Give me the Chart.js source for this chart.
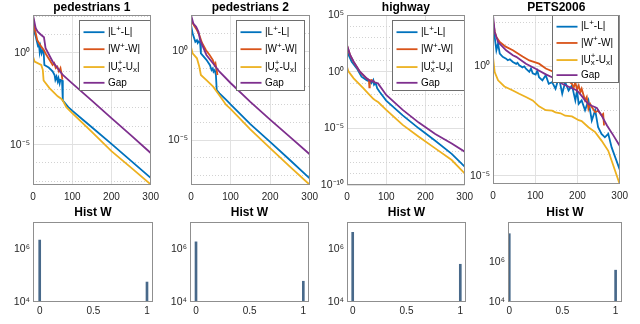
<!DOCTYPE html>
<html><head><meta charset="utf-8">
<script src="https://cdn.jsdelivr.net/npm/chart.js@4.4.0/dist/chart.umd.min.js"></script>
<style>
html,body{margin:0;padding:0;background:#fff;width:640px;height:324px;overflow:hidden;position:relative;}
.p{position:absolute;}
</style></head><body>
<script>
// ---------- data ----------
const iterTicks = [0, 100, 200, 300];
const histTicks = [0, 0.5, 1];
const histTickLabels = ['0', '0.5', '1'];
const seriesNames = ['|L⁺-L|', '|W⁺-W|', '|Uₓ⁺-Uₓ|', 'Gap'];
const seriesColors = ['#0072BD', '#D95319', '#EDB120', '#7E2F8E'];
const titles = ['pedestrians 1', 'pedestrians 2', 'highway', 'PETS2006'];
const histTitle = 'Hist W';

// [iteration, value]
const ped1L = [[0,76],[3,14.5],[7,7.8],[10,4.2],[13,2.2],[15,3.3],[17,1.17],[19,2.2],[22,0.95],[25,1.45],[27,1.25],[29,0.22],[40,0.16],[50,0.1],[55,0.063],[57,0.034],[60,0.051],[63,0.028],[65,0.042],[68,0.022],[70,0.034],[74,0.032],[76,0.0025],[80,0.002],[90,1.1e-3],[100,7.1e-4],[125,2.5e-4],[150,8.9e-5],[200,1.1e-5],[250,1.3e-6],[300,1.55e-7]];
const ped1W = [[0,93],[4,22],[11,5.0],[21,2.2],[28,1.4],[34,0.79],[42,0.42],[50,0.22],[54,0.28],[58,0.15],[62,0.18],[66,0.1],[70,0.15],[73,0.071],[75,0.035]];
const ped1U = [[0,0.63],[4,0.34],[21,0.22],[25,0.12],[27,0.032],[29,0.028],[42,0.012],[63,4.3e-3],[72,3.2e-3],[76,2.5e-3],[85,1.1e-3],[100,5.2e-4],[150,5.0e-5],[200,4.4e-6],[250,5.6e-7],[300,6.8e-8]];
const ped1Gap = [[0,117],[7,22],[12,14.5],[21,9.5],[28,7.1],[32,1.8],[50,0.34],[76,0.063],[100,0.022],[150,2.5e-3],[200,2.8e-4],[250,3.2e-5],[300,3.5e-6]];

const ped2L = [[0,29],[4,10],[11,3.3],[15,4.0],[17,2.8],[20,3.5],[23,2.8],[25,0.74],[39,0.32],[48,0.16],[52,0.085],[55,0.105],[57,0.069],[60,0.085],[63,0.045],[65,6.5e-3],[72,4.2e-3],[89,1.8e-3],[100,1.0e-3],[150,7.9e-5],[200,7.9e-6],[250,7.6e-7],[300,7.1e-8]];
const ped2W = [[0,55],[7,29],[15,15],[21,7.9],[28,2.8],[38,1.1],[47,0.6],[55,0.32],[60,0.16],[62,0.2],[64,0.11],[67,0.045]];
const ped2U = [[0,1.7],[4,0.74],[15,0.39],[21,0.13],[25,0.045],[39,0.023],[56,0.01],[68,4.2e-3],[89,9.3e-4],[100,5.6e-4],[150,4.0e-5],[200,3.5e-6],[250,3.2e-7],[300,3.1e-8]];
const ped2Gap = [[0,105],[6,35],[13,23],[19,12],[23,4.2],[39,0.6],[56,0.2],[72,0.069],[100,0.016],[150,1.4e-3],[200,1.4e-4],[250,1.5e-5],[300,1.6e-6]];

const hwyL = [[0,79],[4,30],[12,7.6],[25,1.95],[37,0.36],[50,0.18],[58,0.13],[62,0.093],[67,0.18],[69,0.071],[73,0.1],[77,0.034],[83,0.017],[100,2.8e-3],[142,1.4e-4],[183,1.0e-5],[225,7.9e-7],[267,5.6e-8],[300,4.2e-9]];
const hwyW = [[0,200],[8,28],[17,7.2],[33,0.95],[50,0.25],[56,0.18],[57,0.042],[58,0.16],[62,0.18],[67,0.14],[71,0.126]];
const hwyU = [[0,2.75],[4,1.0],[17,0.26],[42,0.034],[55,0.011],[67,4e-3],[73,2.8e-3],[80,2e-3],[100,4.2e-4],[142,2e-5],[183,1.8e-6],[225,1.7e-7],[267,1.6e-8],[300,1.07e-9]];
const hwyGap = [[0,224],[8,30],[17,7.6],[33,1.0],[50,0.26],[62,0.13],[66,0.16],[71,0.11],[79,0.093],[100,8.7e-3],[142,4.2e-4],[183,3.2e-5],[225,3.2e-6],[267,4.5e-7],[300,8.7e-8]];

const petsL = [[0,63],[4,22],[8,5.4],[12,11],[16,3.8],[23,2.7],[31,2.24],[35,1.9],[40,2.1],[47,1.58],[55,1.3],[58,1.45],[62,1.12],[70,0.9],[74,1.0],[78,0.78],[86,0.56],[90,0.79],[94,0.48],[101,0.42],[105,0.63],[109,0.32],[117,0.23],[125,0.39],[132,0.16],[140,0.19],[148,0.095],[156,0.32],[164,0.056],[171,0.19],[179,0.079],[187,0.135],[195,0.028],[199,0.079],[203,0.0195],[210,0.028],[218,0.01],[226,0.028],[234,3.4e-3],[242,0.01],[249,1.66e-3],[257,8.3e-4],[265,5.8e-4],[273,8.3e-4],[281,2.0e-4],[300,2.0e-5]];
const petsW = [[0,126],[4,40],[8,22],[16,12.9],[30,7.9],[47,5.4],[70,2.8],[86,1.86],[109,1.32],[125,0.79],[140,0.6],[160,0.35],[175,0.25],[187,0.16],[191,0.105],[195,0.19],[199,0.085],[203,0.135],[207,0.066],[210,0.095],[218,0.028],[222,0.04],[226,0.0115],[230,0.0195],[234,0.0138],[242,8.1e-3],[249,9.5e-3],[257,5.8e-3],[261,6.8e-3],[263,2.0e-3]];
const petsU = [[0,2.7],[4,0.55],[12,0.23],[27,0.12],[47,0.079],[62,0.056],[78,0.04],[94,0.028],[109,0.015],[125,0.01],[140,9.5e-3],[148,7.9e-3],[160,7.2e-3],[171,5.6e-3],[187,5.2e-3],[203,3.5e-3],[210,3.2e-3],[226,1.66e-3],[242,1.0e-3],[257,4.1e-4],[273,1.4e-4],[300,4.3e-6]];
const petsGap = [[0,219],[4,37],[12,12.9],[31,5.4],[47,3.2],[55,2.7],[78,1.32],[101,0.78],[125,0.43],[140,0.32],[164,0.16],[187,0.1],[199,0.079],[210,0.045],[218,0.028],[226,0.019],[234,0.016],[246,0.0126],[257,5.8e-3],[270,2.0e-3],[285,7.1e-4],[300,2.4e-4]];

// y limits and labelled ticks of the line panels
const ped1YRange = [6.3e-8, 117];
const ped2YRange = [3.0e-8, 105];
const hwyYRange = [1e-10, 1e5];
const petsYRange = [4.3e-6, 219];
const yTickVals = [1, 1e-5];
const yTickLabels = ['10⁰', '10⁻⁵'];
const hwyYTickVals = [1e5, 1, 1e-5, 1e-10];
const hwyYTickLabels = ['10⁵', '10⁰', '10⁻⁵', '10⁻¹⁰'];

// histograms of W
const histBins = [0, 1];
const histPed1 = [2.1e6, 5.6e4];
const histPed2 = [1.8e6, 6.0e4];
const histHwy = [4.1e6, 2.6e5];
const histPets = [2.6e7, 3.9e5];
const histYTickVals = [1e4, 1e6];
const histYTickLabels = ['10⁴', '10⁶'];

// ---------- rendering ----------
const FONT = "'Liberation Sans', Arial, Helvetica, sans-serif";
Chart.defaults.font.family = FONT;
Chart.defaults.color = '#262626';

function decadesBetween(min, max) {
  const out = [];
  for (let e = Math.ceil(Math.log10(min) - 1e-9); e <= Math.floor(Math.log10(max) + 1e-9); e++) out.push(Math.pow(10, e));
  return out;
}
function labelFor(v, vals, labels) {
  const i = vals.findIndex(t => Math.abs(Math.log10(t) - Math.log10(v)) < 1e-6);
  return i >= 0 ? labels[i] : '';
}
function isLabelled(v, vals) {
  return vals.some(t => Math.abs(Math.log10(t) - Math.log10(v)) < 1e-6);
}

function drawRich(ctx, text, x, y, size) {
  const norm = size + 'px ' + FONT, small = Math.round(size * 0.75) + 'px ' + FONT;
  let cx = x, subStart = null;
  for (const ch of text) {
    if (ch === '⁺' || ch === 'ₓ') {
      const sup = ch === '⁺', c = sup ? '+' : 'x';
      ctx.font = small;
      const w = ctx.measureText(c).width;
      if (sup && subStart !== null) {
        ctx.fillText(c, subStart, y - size * 0.38);
        cx = Math.max(cx, subStart + w);
        subStart = null;
      } else {
        ctx.fillText(c, cx, y + (sup ? -size * 0.38 : size * 0.32));
        subStart = sup ? null : cx;
        cx += w;
      }
    } else {
      ctx.font = norm;
      ctx.fillText(ch, cx, y);
      cx += ctx.measureText(ch).width;
      subStart = null;
    }
  }
}

const framePlugin = {
  id: 'frame',
  afterDraw(chart) {
    const a = chart.chartArea, ctx = chart.ctx;
    ctx.save();
    ctx.strokeStyle = '#8f8f8f';
    ctx.lineWidth = 1;
    ctx.strokeRect(Math.round(a.left) + 0.5, Math.round(a.top) + 0.5, Math.round(a.right - a.left) - 1, Math.round(a.bottom - a.top) - 1);
    ctx.restore();
  }
};

const boxLegendPlugin = {
  id: 'boxLegend',
  afterDatasetsDraw(chart, args, opts) {
    if (!opts || !opts.w) return;
    const a = chart.chartArea, ctx = chart.ctx;
    const x = Math.round(a.right - opts.r - opts.w) + 0.5, y = Math.round(a.top + opts.t) + 0.5;
    const rows = [0.167, 0.41, 0.665, 0.89];
    ctx.save();
    ctx.fillStyle = '#fff';
    ctx.fillRect(x, y, opts.w, opts.h);
    ctx.strokeStyle = '#6e6e6e';
    ctx.lineWidth = 1;
    ctx.strokeRect(x, y, opts.w, opts.h);
    chart.data.datasets.forEach((ds, i) => {
      const yy = y + opts.h * rows[i];
      ctx.strokeStyle = ds.borderColor;
      ctx.lineWidth = 1.8;
      ctx.beginPath(); ctx.moveTo(x + 4, yy); ctx.lineTo(x + 25, yy); ctx.stroke();
      ctx.fillStyle = '#000';
      ctx.textBaseline = 'middle';
      ctx.textAlign = 'left';
      drawRich(ctx, ds.label, x + 28.5, yy, 10);
    });
    ctx.restore();
  }
};

function place(rect, YW, RP, TH, XH) {
  const div = document.createElement('div');
  div.className = 'p';
  const W = (rect.r - rect.l) + YW + RP, H = (rect.b - rect.t) + TH + XH;
  div.style.left = (rect.l - YW) + 'px';
  div.style.top = (rect.t - TH) + 'px';
  div.style.width = W + 'px';
  div.style.height = H + 'px';
  const c = document.createElement('canvas');
  c.width = W; c.height = H;
  c.style.width = W + 'px'; c.style.height = H + 'px';
  div.appendChild(c);
  document.body.appendChild(div);
  return c;
}

function lineChart(rect, title, series, yRange, tVals, tLabels, legendBox) {
  const YW = 36, RP = 12, TH = 15, XH = 20;
  const c = place(rect, YW, RP, TH, XH);
  const orders = [3, 2, 1, 0];
  const datasets = series.map((s, i) => ({
    label: seriesNames[i],
    data: s.map(p => ({x: p[0], y: p[1]})),
    borderColor: seriesColors[i],
    backgroundColor: seriesColors[i],
    borderWidth: 1.8,
    pointRadius: 0,
    fill: false,
    tension: 0,
    order: orders[i]
  }));
  new Chart(c, {
    type: 'line',
    data: {datasets},
    plugins: [framePlugin, boxLegendPlugin],
    options: {
      responsive: false, animation: false, devicePixelRatio: 1,
      layout: {padding: {left: 0, right: RP, top: 0, bottom: 0}},
      plugins: {
        legend: {display: false}, tooltip: {enabled: false},
        title: {display: true, text: title, fullSize: false, color: '#000',
                font: {family: FONT, size: 12, weight: 'bold', lineHeight: 1.25},
                padding: {top: 0, bottom: TH - 15}},
        boxLegend: legendBox
      },
      scales: {
        x: {
          type: 'linear', min: 0, max: 300, offset: false,
          afterBuildTicks: s => { s.ticks = iterTicks.map(v => ({value: v})); },
          afterFit: s => { s.height = XH; },
          ticks: {autoSkip: false, maxRotation: 0, minRotation: 0, padding: 6, font: {size: 10}, color: '#262626',
                  callback: v => String(v)},
          grid: {color: '#e2e2e2', drawTicks: false, lineWidth: 1},
          border: {display: false}
        },
        y: {
          type: 'logarithmic', min: yRange[0], max: yRange[1], bounds: 'data',
          afterBuildTicks: s => { s.ticks = decadesBetween(yRange[0], yRange[1]).map(v => ({value: v})); },
          afterFit: s => { s.width = YW; },
          ticks: {autoSkip: false, padding: 3, font: {size: 10.5}, color: '#262626',
                  callback: v => labelFor(v, tVals, tLabels)},
          grid: {drawTicks: false, lineWidth: 1,
                 color: ctx => (ctx.tick && isLabelled(ctx.tick.value, tVals)) ? '#e0e0e0' : '#d2d2d2'},
          border: {display: false,
                   dash: ctx => (ctx.tick && isLabelled(ctx.tick.value, tVals)) ? [] : [1, 2]}
        }
      }
    }
  });
}

function histChart(rect, values, xRange, yMax) {
  const YW = 36, RP = 12, TH = 17, XH = 18;
  const c = place(rect, YW, RP, TH, XH);
  new Chart(c, {
    type: 'bar',
    data: {datasets: [{
      label: histTitle,
      data: histBins.map((b, i) => ({x: b, y: [1e4, values[i]]})),
      backgroundColor: '#48698a',
      borderColor: '#3d5166',
      borderWidth: 0,
      barThickness: 2,
      grouped: false
    }]},
    plugins: [framePlugin],
    options: {
      responsive: false, animation: false, devicePixelRatio: 1,
      layout: {padding: {left: 0, right: RP, top: 0, bottom: 0}},
      plugins: {
        legend: {display: false}, tooltip: {enabled: false},
        title: {display: true, text: histTitle, fullSize: false, color: '#000',
                font: {family: FONT, size: 12, weight: 'bold', lineHeight: 1.25},
                padding: {top: 0, bottom: TH - 15}}
      },
      scales: {
        x: {
          type: 'linear', min: xRange[0], max: xRange[1], offset: false,
          afterBuildTicks: s => { s.ticks = histTicks.map(v => ({value: v})); },
          afterFit: s => { s.height = XH; },
          ticks: {autoSkip: false, maxRotation: 0, minRotation: 0, padding: 3, font: {size: 10}, color: '#262626',
                  callback: (v, i) => histTickLabels[i]},
          grid: {display: false, drawTicks: false},
          border: {display: false}
        },
        y: {
          type: 'logarithmic', min: 1e4, max: yMax, bounds: 'data',
          afterBuildTicks: s => { s.ticks = decadesBetween(1e4, yMax).map(v => ({value: v})); },
          afterFit: s => { s.width = YW; },
          ticks: {autoSkip: false, padding: 3, font: {size: 10.5}, color: '#262626',
                  callback: v => labelFor(v, histYTickVals, histYTickLabels)},
          grid: {display: false, drawTicks: false},
          border: {display: false}
        }
      }
    }
  });
}

lineChart({l: 33, r: 153, t: 15, b: 185}, titles[0], [ped1L, ped1W, ped1U, ped1Gap], ped1YRange, yTickVals, yTickLabels, {r: 1, t: 5, w: 71, h: 70});
lineChart({l: 191, r: 312, t: 15, b: 185}, titles[1], [ped2L, ped2W, ped2U, ped2Gap], ped2YRange, yTickVals, yTickLabels, {r: 6, t: 5, w: 68, h: 70});
lineChart({l: 347, r: 467, t: 15, b: 185}, titles[2], [hwyL, hwyW, hwyU, hwyGap], hwyYRange, hwyYTickVals, hwyYTickLabels, {r: 1, t: 5, w: 72, h: 70});
lineChart({l: 493, r: 622, t: 15, b: 184}, titles[3], [petsL, petsW, petsU, petsGap], petsYRange, yTickVals, yTickLabels, {r: 2, t: 0, w: 66, h: 67});

histChart({l: 33, r: 153, t: 222, b: 302}, histPed1, [-0.0625, 1.056], 1e7);
histChart({l: 190, r: 309, t: 222, b: 302}, histPed2, [-0.056, 1.053], 1e7);
histChart({l: 347, r: 466, t: 222, b: 302}, histHwy, [-0.053, 1.053], 1e7);
histChart({l: 508, r: 622, t: 222, b: 302}, histPets, [-0.012, 1.06], 1e8);
</script>
</body></html>
